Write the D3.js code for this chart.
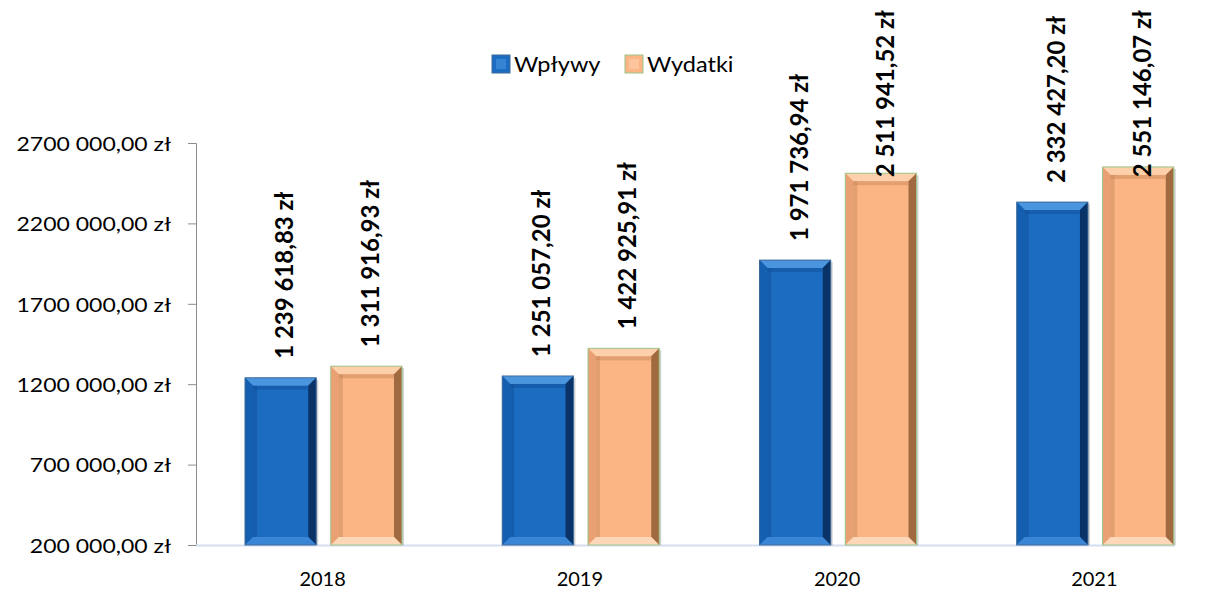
<!DOCTYPE html>
<html>
<head>
<meta charset="utf-8">
<script src="https://cdn.jsdelivr.net/npm/d3@7"></script>
<style>
  body { margin: 0; background: #fff; }
  svg text { font-family: Lato, "Open Sans", sans-serif; fill: #000; }
</style>
</head>
<body>
<div id="chart"></div>
<script>
const years = ["2018", "2019", "2020", "2021"];
const seriesNames = ["Wpływy", "Wydatki"];
const wplywy = [1239618.83, 1251057.20, 1971736.94, 2332427.20];
const wydatki = [1311916.93, 1422925.91, 2511941.52, 2551146.07];
const yTicks = [200000, 700000, 1200000, 1700000, 2200000, 2700000];
const yTickLabels = ["200 000,00 zł", "700 000,00 zł", "1200 000,00 zł", "1700 000,00 zł", "2200 000,00 zł", "2700 000,00 zł"];

const width = 1213, height = 592;
const svg = d3.select("#chart").append("svg")
    .attr("width", width)
    .attr("height", height);

// kolory słupków (faza / bevel)
const palette = {
  "Wpływy": { base: "#1c6cc2", top: "#4a95de", left: "#155fb0", right: "#0a3467", bottom: "#3a86d4", inner: "#0f4f98", edge: "#3e6a9a" },
  "Wydatki": { base: "#fbb585", top: "#fdd0ab", left: "#e9a173", right: "#a0693f", bottom: "#fdd8b8", inner: "#c98a5c", edge: "#9cc48a" }
};

const x0 = d3.scaleBand().domain(years).range([196, 1225]);
const x1 = d3.scaleBand().domain(seriesNames).range([49, 206]).paddingInner(0.17);
const y = d3.scaleLinear().domain([200000, 2700000]).range([545, 143]);

// oś Y
const yAxis = svg.append("g")
    .attr("transform", "translate(196,0)")
    .call(d3.axisLeft(y).tickValues(yTicks).tickSize(8)
        .tickFormat((d, i) => yTickLabels[i]));
yAxis.select(".domain").attr("stroke", "#8c8c8c");
yAxis.selectAll(".tick line").attr("stroke", "#8c8c8c");
yAxis.selectAll("text")
    .style("font-size", "20px")
    .attr("x", null)
    .attr("dy", "0.36em")
    .attr("transform", "translate(-25,0) scale(1.15,1)");

// linia bazowa
svg.append("line")
    .attr("x1", 196).attr("x2", 1175)
    .attr("y1", y(200000) + 0.5).attr("y2", y(200000) + 0.5)
    .attr("stroke", "#d4def0").attr("stroke-width", 2);

// etykiety lat
svg.selectAll(".year")
    .data(years)
    .join("text")
    .attr("class", "year")
    .attr("x", d => x0(d) + x0.bandwidth() / 2 - 2)
    .attr("y", 586)
    .attr("text-anchor", "middle")
    .style("font-size", "20px")
    .text(d => d);

const rows = [];
years.forEach((yr, i) => {
  rows.push({ year: yr, name: "Wpływy", value: wplywy[i] });
  rows.push({ year: yr, name: "Wydatki", value: wydatki[i] });
});

const bw = 8; // szerokość fazy
const bars = svg.selectAll(".bar")
    .data(rows)
    .join("g")
    .attr("class", "bar")
    .attr("transform", d => `translate(${x0(d.year) + x1(d.name)},${y(d.value)})`);

bars.each(function(d) {
  const g = d3.select(this);
  const w = x1.bandwidth();
  const h = y(200000) - y(d.value);
  const c = palette[d.name];
  g.append("rect").attr("x", 2).attr("y", 2).attr("width", w).attr("height", h - 2)
      .attr("fill", "#000").attr("opacity", 0.18);
  g.append("rect").attr("width", w).attr("height", h).attr("fill", c.base);
  const poly = pts => g.append("polygon").attr("points", pts.map(p => p.join(",")).join(" "));
  poly([[0, 0], [w, 0], [w - bw, bw], [bw, bw]]).attr("fill", c.top);
  poly([[0, 0], [bw, bw], [bw, h - bw], [0, h]]).attr("fill", c.left);
  poly([[w, 0], [w, h], [w - bw, h - bw], [w - bw, bw]]).attr("fill", c.right);
  poly([[0, h], [bw, h - bw], [w - bw, h - bw], [w, h]]).attr("fill", c.bottom);
  // cień wewnętrzny
  g.append("rect").attr("x", bw).attr("y", bw).attr("width", w - 2 * bw).attr("height", 4)
      .attr("fill", c.inner).attr("opacity", 0.5);
  g.append("rect").attr("x", bw).attr("y", bw).attr("width", 4).attr("height", h - 2 * bw)
      .attr("fill", c.inner).attr("opacity", 0.5);
  g.append("rect").attr("x", 0).attr("y", 0).attr("width", w).attr("height", h)
      .attr("fill", "none").attr("stroke", c.edge).attr("stroke-width", 1);
});

// etykiety wartości (pionowe)
const fmt = v => {
  const [int, dec] = v.toFixed(2).split(".");
  return int.replace(/\B(?=(\d{3})+(?!\d))/g, " ") + "," + dec + " zł";
};
svg.selectAll(".val")
    .data(rows)
    .join("text")
    .attr("class", "val")
    .style("font-size", "24px")
    .style("font-weight", "bold")
    .attr("dy", "0.36em")
    .text(d => fmt(d.value))
    .each(function(d) {
      const len = this.getComputedTextLength();
      const cx = x0(d.year) + x1(d.name) + x1.bandwidth() / 2 + 4;
      const base = Math.max(y(d.value) - 19, 10 + len);
      d3.select(this).attr("transform", `translate(${cx},${base}) rotate(-90)`);
    });

// legenda
const legend = svg.append("g").attr("transform", "translate(492,55)");
const legendItems = legend.selectAll("g")
    .data(seriesNames)
    .join("g")
    .attr("transform", (d, i) => `translate(${i * 133},0)`);
legendItems.append("rect")
    .attr("width", 18).attr("height", 18)
    .attr("fill", d => palette[d].base)
    .attr("stroke", d => palette[d].edge);
legendItems.append("rect")
    .attr("x", 4).attr("y", 4).attr("width", 10).attr("height", 10)
    .attr("fill", d => palette[d].top).attr("opacity", 0.6);
legendItems.append("text")
    .attr("dy", "0.36em")
    .attr("transform", "translate(22,9) scale(1.12,1)")
    .style("font-size", "21px")
    .text(d => d);
</script>
</body>
</html>
